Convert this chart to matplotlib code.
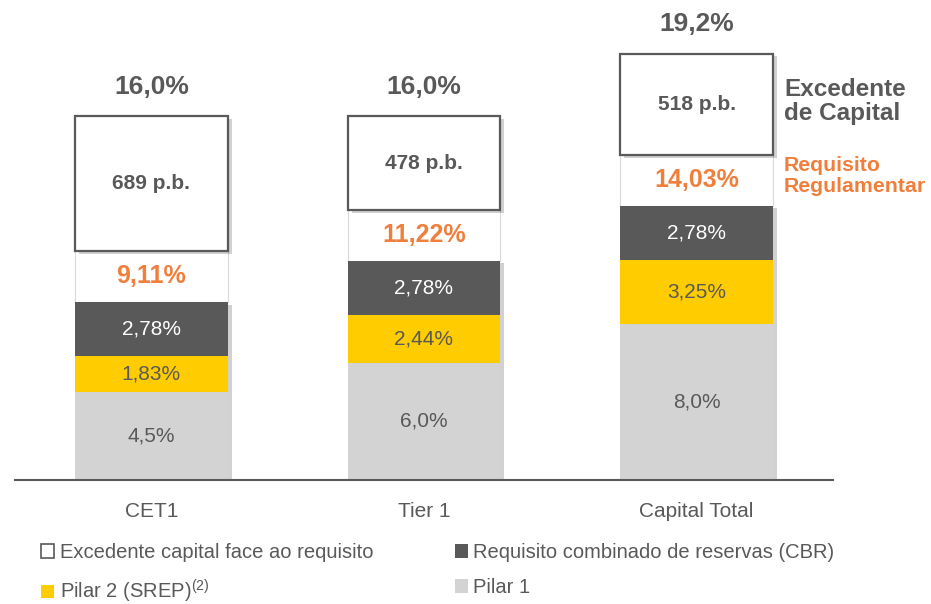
import matplotlib
matplotlib.use("Agg")
import matplotlib.pyplot as plt
import matplotlib.patheffects as pe
from matplotlib.patches import Patch

plt.rcParams["font.family"] = ["Liberation Sans", "DejaVu Sans"]
plt.rcParams["mathtext.fontset"] = "custom"
plt.rcParams["mathtext.rm"] = "Liberation Sans"
plt.rcParams["mathtext.it"] = "Liberation Sans"

# data
categories = ["CET1", "Tier 1", "Capital Total"]
pilar1 = [4.5, 6.0, 8.0]
pilar2 = [1.83, 2.44, 3.25]
cbr = [2.78, 2.78, 2.78]
excedente_pb = [689, 478, 518]
totals = [16.0, 16.0, 19.2]
pilar1_lbl = ["4,5%", "6,0%", "8,0%"]
pilar2_lbl = ["1,83%", "2,44%", "3,25%"]
cbr_lbl = ["2,78%", "2,78%", "2,78%"]
req_lbl = ["9,11%", "11,22%", "14,03%"]
total_lbl = ["16,0%", "16,0%", "19,2%"]

DARK = "#595959"
YELLOW = "#FFCC00"
LIGHT = "#D3D3D3"
ORANGE = "#F07F3C"
GAP = 2.6  # blank space holding the requirement label
W = 0.56

fig = plt.figure(figsize=(9.31, 6.04), dpi=100)
ax = fig.add_axes([0.0161, 0.2053, 0.8786, 0.7947])

x = list(range(len(categories)))
req = [a + b + c for a, b, c in zip(pilar1, pilar2, cbr)]
exc = [v / 100 for v in excedente_pb]
box_bottom = [r + GAP for r in req]

shadow = [pe.SimplePatchShadow(offset=(3, -2), shadow_rgbFace="#000000", alpha=0.18), pe.Normal()]

# one shadowed block behind each stack, segments drawn on top without shadow
ax.bar(x, req, W, color=LIGHT, zorder=0.5, path_effects=shadow)
ax.bar(x, [GAP] * 3, W, bottom=req, color="white", edgecolor="#d9d9d9", linewidth=0.8, zorder=1)
ax.bar(x, pilar1, W, color=LIGHT, zorder=2)
ax.bar(x, pilar2, W, bottom=pilar1, color=YELLOW, zorder=2)
ax.bar(x, cbr, W, bottom=[a + b for a, b in zip(pilar1, pilar2)], color=DARK, zorder=2)
ax.bar(x, exc, W, bottom=box_bottom, color="white", edgecolor=DARK, linewidth=1.6, zorder=3,
       path_effects=shadow)

for i in x:
    ax.text(i, pilar1[i] / 2, pilar1_lbl[i], ha="center", va="center", fontsize=15, color=DARK, zorder=5)
    ax.text(i, pilar1[i] + pilar2[i] / 2, pilar2_lbl[i], ha="center", va="center", fontsize=15, color=DARK, zorder=5)
    ax.text(i, pilar1[i] + pilar2[i] + cbr[i] / 2, cbr_lbl[i], ha="center", va="center", fontsize=15, color="white", zorder=5)
    ax.text(i, req[i] + GAP / 2, req_lbl[i], ha="center", va="center", fontsize=18, color=ORANGE,
            fontweight="bold", zorder=5)
    ax.text(i, box_bottom[i] + exc[i] / 2, f"{excedente_pb[i]} p.b.", ha="center", va="center",
            fontsize=15, color=DARK, fontweight="bold", zorder=5)
    ax.text(i, box_bottom[i] + exc[i] + 1.5, total_lbl[i], ha="center", va="center", fontsize=19,
            color=DARK, fontweight="bold", zorder=5)

ax.text(2.32, box_bottom[2] + exc[2] / 2 + 0.15, "Excedente\nde Capital", ha="left", va="center",
        fontsize=17.5, color=DARK, fontweight="bold", linespacing=1.05)
ax.text(2.32, req[2] + GAP / 2 + 0.2, "Requisito\nRegulamentar", ha="left", va="center",
        fontsize=15.3, color=ORANGE, fontweight="bold", linespacing=1.15)

ax.set_xlim(-0.5, 2.5)
ax.set_ylim(0, 24.55)
ax.set_xticks(x)
ax.set_xticklabels(categories, fontsize=15, color=DARK)
ax.tick_params(axis="x", length=0, pad=16)
ax.set_yticks([])
for s in ("top", "right", "left"):
    ax.spines[s].set_visible(False)
ax.spines["bottom"].set_color(DARK)
ax.spines["bottom"].set_linewidth(1.5)

handles = [
    Patch(facecolor="white", edgecolor=DARK, linewidth=1.2, label="Excedente capital face ao requisito"),
    Patch(facecolor=YELLOW, label="Pilar 2 (SREP)$^{(2)}$"),
    Patch(facecolor=DARK, label="Requisito combinado de reservas (CBR)"),
    Patch(facecolor=LIGHT, label="Pilar 1"),
]
fig.legend(handles=handles, ncol=2, loc="lower left", bbox_to_anchor=(0.025, -0.032), frameon=False,
           prop={"size": 14.5}, labelcolor=DARK, handlelength=0.65, handleheight=0.65,
           handletextpad=0.25, columnspacing=4.05, labelspacing=0.8)

fig.savefig("out.png", dpi=100)
